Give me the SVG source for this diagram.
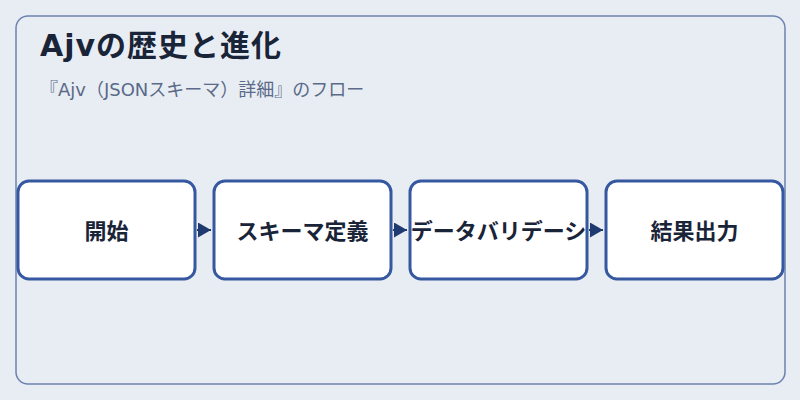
<svg xmlns="http://www.w3.org/2000/svg" width="800" height="400" viewBox="0 0 800 400">
  <defs>
    <style>
      .frame { fill: #e8edf3; stroke: #6b82b0; stroke-width: 1.5; }
      .node rect { fill: #ffffff; stroke: #3558a0; stroke-width: 3; }
      .node text { font-family: "DejaVu Sans", "Noto Sans CJK JP", sans-serif; font-size: 22px; font-weight: bold; fill: #1a2438; text-anchor: middle; }
      .title { font-family: "DejaVu Sans", "Noto Sans CJK JP", sans-serif; font-size: 30px; font-weight: bold; fill: #1a2438; letter-spacing: 1px; }
      .subtitle { font-family: "DejaVu Sans", "Noto Sans CJK JP", sans-serif; font-size: 18px; fill: #5a6a88; }
      .edge { stroke: #1f3a70; stroke-width: 2; fill: none; }
    </style>
    <marker id="arrow" markerUnits="userSpaceOnUse" markerWidth="14" markerHeight="16" refX="13" refY="7.5" orient="auto">
      <path d="M0,0 L13,7.5 L0,15 z" fill="#1f3a70"/>
    </marker>
  </defs>
  <rect width="800" height="400" fill="#e8edf3"/>
  <rect class="frame" x="16" y="16" width="769" height="368" rx="12"/>
  <text class="title" x="40" y="56">Ajvの歴史と進化</text>
  <text class="subtitle" x="40" y="96">『Ajv（JSONスキーマ）詳細』のフロー</text>
  <g id="connectors">
    <line class="edge" x1="197" y1="230" x2="211" y2="230" marker-end="url(#arrow)"/>
    <line class="edge" x1="393" y1="230" x2="407" y2="230" marker-end="url(#arrow)"/>
    <line class="edge" x1="589" y1="230" x2="603" y2="230" marker-end="url(#arrow)"/>
  </g>
  <g id="node-start" class="node">
    <rect x="18" y="181" width="177" height="98" rx="11"/>
    <text x="106.5" y="239">開始</text>
  </g>
  <g id="node-schema" class="node">
    <rect x="214" y="181" width="177" height="98" rx="11"/>
    <text x="302.5" y="239">スキーマ定義</text>
  </g>
  <g id="node-validation" class="node">
    <rect x="410" y="181" width="177" height="98" rx="11"/>
    <text x="498.5" y="239">データバリデーシ</text>
  </g>
  <g id="node-output" class="node">
    <rect x="606" y="181" width="177" height="98" rx="11"/>
    <text x="694.5" y="239">結果出力</text>
  </g>
</svg>
